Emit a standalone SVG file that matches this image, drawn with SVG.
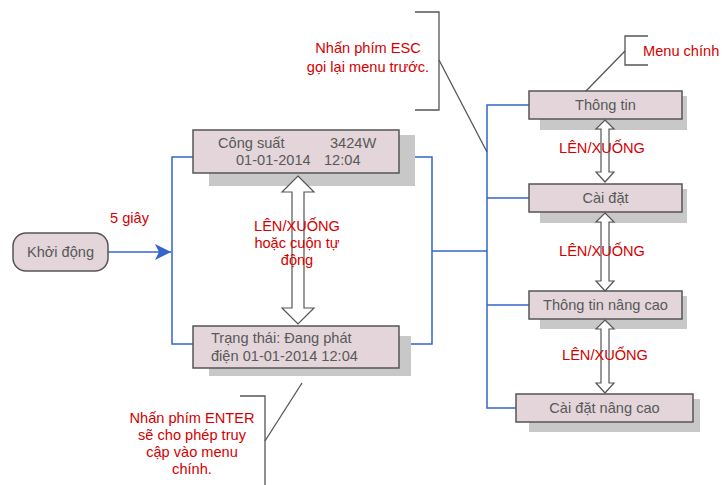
<svg xmlns="http://www.w3.org/2000/svg" width="723" height="485" viewBox="0 0 723 485">
  <defs>
    <style>
      .box { fill: #e3d5da; stroke: #555; stroke-width: 1.5; }
      .shadow { fill: #c8c8c8; }
      .t { font-family: "Liberation Sans", Arial, sans-serif; font-size: 14.6px; fill: #595959; }
      .r { font-family: "Liberation Sans", Arial, sans-serif; font-size: 14.6px; fill: #d40000; }
      .blue { fill: none; stroke: #3366cc; stroke-width: 1.5; }
      .gray { fill: none; stroke: #555; stroke-width: 1.3; }
      .dbl { fill: #fff; stroke: #555; stroke-width: 1.2; }
    </style>
    <marker id="arr" viewBox="0 0 16 16" refX="16" refY="8" markerWidth="16" markerHeight="16" markerUnits="userSpaceOnUse" orient="auto">
      <path d="M0,0 L16,8 L0,16 L4,8 z" fill="#3366cc"/>
    </marker>
  </defs>

  <rect width="723" height="485" fill="#fff"/>

  <!-- connectors -->
  <g id="connectors">
    <line class="blue" x1="108" y1="252" x2="171" y2="252" marker-end="url(#arr)"/>
    <polyline class="blue" points="193,157 172,157 172,344 193,344"/>
    <polyline class="blue" points="399,157 432,157 432,344 399,344"/>
    <line class="blue" x1="432" y1="251" x2="487" y2="251"/>
    <polyline class="blue" points="529,105 487,105 487,408 516,408"/>
    <line class="blue" x1="487" y1="198" x2="529" y2="198"/>
    <line class="blue" x1="487" y1="305" x2="529" y2="305"/>

    <!-- callout brackets -->
    <polyline class="gray" points="415,12 439,12 439,110 415,110"/>
    <line class="gray" x1="439" y1="60" x2="487" y2="152"/>
    <polyline class="gray" points="648,36 625,36 625,65 648,65"/>
    <line class="gray" x1="625" y1="51" x2="586" y2="91"/>
    <polyline class="gray" points="240,396 265,396 265,485"/>
    <line class="gray" x1="265" y1="441" x2="302" y2="383"/>
  </g>

  <!-- start -->
  <g id="khoi-dong">
    <rect class="box" x="13" y="233" width="95" height="38" rx="13"/>
    <text class="t" x="60.5" y="257" text-anchor="middle">Khởi động</text>
  </g>

  <g id="cong-suat">
    <rect class="shadow" x="209" y="135" width="206" height="51"/>
    <rect class="box" x="193" y="130" width="206" height="43"/>
    <text class="t" x="218" y="148">Công suất</text>
    <text class="t" x="330" y="148">3424W</text>
    <text class="t" x="236" y="165">01-01-2014</text>
    <text class="t" x="324" y="165">12:04</text>
  </g>

  <g id="trang-thai">
    <rect class="shadow" x="209" y="336" width="202" height="40"/>
    <rect class="box" x="193" y="326" width="206" height="42"/>
    <text class="t" x="211" y="343">Trạng thái: Đang phát</text>
    <text class="t" x="211" y="361">điện 01-01-2014 12:04</text>
  </g>

  <g id="thong-tin">
    <rect class="shadow" x="540" y="96" width="147" height="34"/>
    <rect class="box" x="529" y="91" width="153" height="28"/>
    <text class="t" x="605.5" y="110" text-anchor="middle">Thông tin</text>
  </g>

  <g id="cai-dat">
    <rect class="shadow" x="540" y="189" width="147" height="34"/>
    <rect class="box" x="529" y="184" width="153" height="28"/>
    <text class="t" x="605.5" y="203" text-anchor="middle">Cài đặt</text>
  </g>

  <g id="thong-tin-nang-cao">
    <rect class="shadow" x="540" y="296" width="147" height="33"/>
    <rect class="box" x="529" y="291" width="153" height="28"/>
    <text class="t" x="605.5" y="310" text-anchor="middle">Thông tin nâng cao</text>
  </g>

  <g id="cai-dat-nang-cao">
    <rect class="shadow" x="529" y="399" width="171" height="33"/>
    <rect class="box" x="516" y="394" width="177" height="28"/>
    <text class="t" x="604.5" y="413" text-anchor="middle">Cài đặt nâng cao</text>
  </g>

  <!-- hollow double arrows between screens -->
  <g id="nav-arrows">
    <path class="dbl" d="M298,176 L314,192 L304,192 L304,308 L314,308 L298,324 L282,308 L292,308 L292,192 L282,192 Z"/>
    <path class="dbl" d="M605,120 L614,129 L609,129 L609,172 L614,172 L605,182 L596,172 L601,172 L601,129 L596,129 Z"/>
    <path class="dbl" d="M605,213 L614,222 L609,222 L609,281 L614,281 L605,291 L596,281 L601,281 L601,222 L596,222 Z"/>
    <path class="dbl" d="M605,320 L614,329 L609,329 L609,383 L614,383 L605,393 L596,383 L601,383 L601,329 L596,329 Z"/>
  </g>

  <!-- labels -->
  <g id="labels">
    <text class="r" x="110" y="223">5 giây</text>
    <text class="r" x="297" y="231" text-anchor="middle">LÊN/XUỐNG</text>
    <text class="r" x="297" y="248" text-anchor="middle">hoặc cuộn tự</text>
    <text class="r" x="297" y="265" text-anchor="middle">động</text>
    <text class="r" x="602" y="153" text-anchor="middle">LÊN/XUỐNG</text>
    <text class="r" x="602" y="256" text-anchor="middle">LÊN/XUỐNG</text>
    <text class="r" x="605" y="360" text-anchor="middle">LÊN/XUỐNG</text>
    <text class="r" x="368" y="53" text-anchor="middle" font-size="15">Nhấn phím ESC</text>
    <text class="r" x="368" y="72" text-anchor="middle" font-size="15">gọi lại menu trước.</text>
    <text class="r" x="643" y="56">Menu chính</text>
    <text class="r" x="192" y="423" text-anchor="middle">Nhấn phím ENTER</text>
    <text class="r" x="192" y="440" text-anchor="middle">sẽ cho phép truy</text>
    <text class="r" x="192" y="457" text-anchor="middle">cập vào menu</text>
    <text class="r" x="192" y="474" text-anchor="middle">chính.</text>
  </g>
</svg>
